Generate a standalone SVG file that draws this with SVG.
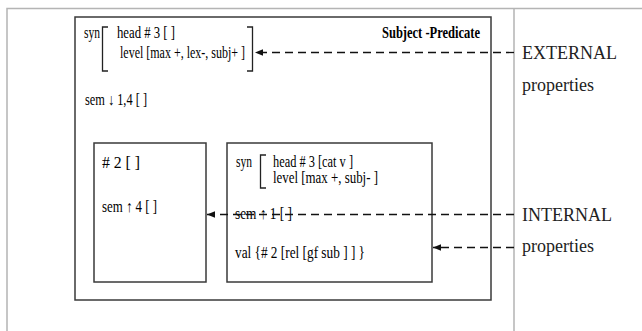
<svg xmlns="http://www.w3.org/2000/svg" width="642" height="331" viewBox="0 0 642 331">
<style>
.frame{fill:none;stroke:#b4b4b4;stroke-width:1.5}
.box{fill:none;stroke:#3a3a3a;stroke-width:1.5}
.br{fill:none;stroke:#222;stroke-width:1.3}
.t{font-family:"Liberation Serif","Times New Roman",serif;font-size:16px;fill:#000}
.b{font-family:"Liberation Serif","Times New Roman",serif;font-size:16px;font-weight:bold;fill:#000}
.lab{font-family:"Liberation Serif","Times New Roman",serif;font-size:18px;fill:#222}
.dash{fill:none;stroke:#111;stroke-width:1.3;stroke-dasharray:8 5}
</style>
<defs>
<marker id="ah" viewBox="0 0 10 10" refX="10" refY="5" markerWidth="8" markerHeight="8" markerUnits="userSpaceOnUse" orient="auto">
<path d="M0,1 L10,5 L0,9 z" fill="#111"/>
</marker>
</defs>
<g id="frame">
<path class="frame" d="M7,331 V8.5 H642 M514,8.5 V331"/>
</g>
<g id="subject-predicate">
<rect class="box" x="75" y="17" width="416" height="283"/>
<text class="b" x="382" y="38" textLength="98" lengthAdjust="spacingAndGlyphs">Subject -Predicate</text>
<text class="t" x="84" y="38" textLength="16" lengthAdjust="spacingAndGlyphs">syn</text>
<path class="br" d="M108,27 H102.5 V71 H108 M247,27 H252.5 V71 H247"/>
<text class="t" x="117" y="38" textLength="58" lengthAdjust="spacingAndGlyphs">head # 3 [ ]</text>
<text class="t" x="120" y="57.5" textLength="125" lengthAdjust="spacingAndGlyphs">level [max +, lex-, subj+ ]</text>
<text class="t" x="85" y="105" textLength="62" lengthAdjust="spacingAndGlyphs">sem ↓ 1,4 [ ]</text>
</g>
<g id="daughter-subject">
<rect class="box" x="94" y="143" width="112" height="139"/>
<text class="t" x="102" y="168" textLength="38" lengthAdjust="spacingAndGlyphs"># 2 [  ]</text>
<text class="t" x="102" y="212" textLength="55" lengthAdjust="spacingAndGlyphs">sem ↑ 4 [ ]</text>
</g>
<g id="daughter-predicate">
<rect class="box" x="227" y="143" width="205" height="139"/>
<text class="t" x="236" y="167" textLength="16" lengthAdjust="spacingAndGlyphs">syn</text>
<path class="br" d="M266,155 H260.5 V188 H266"/>
<text class="t" x="273" y="167" textLength="80" lengthAdjust="spacingAndGlyphs">head # 3 [cat v ]</text>
<text class="t" x="273" y="182.5" textLength="105" lengthAdjust="spacingAndGlyphs">level  [max +, subj- ]</text>
<text class="t" x="235" y="219" textLength="57" lengthAdjust="spacingAndGlyphs">sem ↑ 1 [ ]</text>
<text class="t" x="235" y="258" textLength="130" lengthAdjust="spacingAndGlyphs">val {# 2 [rel [gf sub ] ] }</text>
</g>
<g id="labels">
<text class="lab" x="522" y="59">EXTERNAL</text>
<text class="lab" x="522" y="91">properties</text>
<text class="lab" x="522" y="221">INTERNAL</text>
<text class="lab" x="522" y="252">properties</text>
</g>
<g id="connectors">
<line class="dash" x1="514" y1="52.5" x2="255" y2="52.5" marker-end="url(#ah)"/>
<line class="dash" x1="514" y1="214.5" x2="207" y2="214.5" marker-end="url(#ah)"/>
<line class="dash" x1="514" y1="247.5" x2="433" y2="247.5" marker-end="url(#ah)"/>
</g>
</svg>
